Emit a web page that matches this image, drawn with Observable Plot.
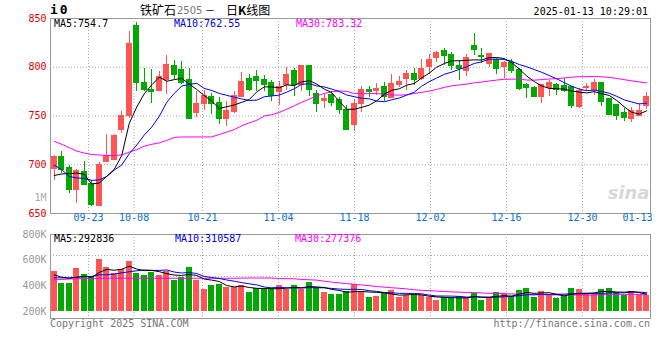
<!DOCTYPE html>
<html><head><meta charset="utf-8">
<script src="https://cdn.jsdelivr.net/npm/d3@7"></script>
<script src="https://cdn.jsdelivr.net/npm/@observablehq/plot@0.6"></script>
<style>
html,body{margin:0;padding:0;background:#fff;}
#wrap{position:relative;width:660px;height:360px;overflow:hidden;font-family:"DejaVu Sans Mono",monospace;font-size:10px;background:#fff;}
.t{position:absolute;white-space:nowrap;line-height:12px;}
#main,#vol{position:absolute;left:0;}
#main{top:0px;}
#vol{top:228px;}
</style></head><body>
<div id="wrap">
  <div id="main"></div>
  <div id="vol"></div>
  <div class="t" style="left:50px;top:4px;font-weight:bold;font-size:13px;letter-spacing:2px;">i0</div>
  <div class="t" style="left:140px;top:4px;font-family:'Noto Sans CJK SC';font-size:12px;">铁矿石</div>
  <div class="t" style="left:177px;top:5px;font-family:'DejaVu Sans';font-size:10px;color:#777;">2505</div>
  <div class="t" style="left:205px;top:4px;font-family:'Noto Sans CJK SC';font-size:10px;">－</div>
  <div class="t" style="left:226px;top:4px;font-family:'Noto Sans CJK SC';font-size:12px;">日<b>K</b>线图</div>
  <div class="t" style="right:12px;top:6px;">2025-01-13 10:29:01</div>
  <div class="t" style="left:54px;top:18px;color:#000;">MA5:754.7</div>
  <div class="t" style="left:174px;top:18px;color:#0000ee;">MA10:762.55</div>
  <div class="t" style="left:296px;top:18px;color:#ff00ff;">MA30:783.32</div>
  <div class="t" style="left:54px;top:233px;color:#000;">MA5:292836</div>
  <div class="t" style="left:175px;top:233px;color:#0000ee;">MA10:310587</div>
  <div class="t" style="left:295px;top:233px;color:#ff00ff;">MA30:277376</div>
  <div class="t" style="left:50px;top:318px;color:#777;">Copyright 2025 SINA.COM</div>
  <div class="t" style="right:10px;top:318px;color:#777;">http://finance.sina.com.cn</div>
</div>
<script>
// ---- data (daily K, i2505) ----
const open = [696,707.5,697,674.5,693,680,657.5,703,704.5,735.5,
  750.5,842,783.5,777,776,786.5,801,797.5,786.5,753,
  762,769,763,746.5,754.5,770,787.5,790.5,787,783.5,
  774.5,781.5,796.5,781.5,801,773,765.5,771.5,766,756.5,
  740.5,762,776.5,775.5,780,768,781.5,787.5,793.5,788,
  800,809,817,813,801,796,821.5,812,803,807.5,
  800,804,797.5,781.5,779,769.5,779,781.5,780.5,779.5,
  759.5,778.5,777,783.5,767.5,761,753.5,746.5,750.5,760];
const close = [708,694.5,674.5,694,679.5,658.5,700,709,729.5,750.5,
  823.5,783.5,777,775,790.5,802,792,783.5,746.5,762,
  771,762.5,746.5,755.5,771,784.5,777,785.5,781.5,771,
  779.5,792.5,781.5,801,776.5,762,767,763.5,756,736,
  762,777,775,778,769.5,782.5,784.5,793.5,786.5,798.5,
  807,815,812,801,798,809.5,817.5,811,814,798,
  804,796.5,778,778.5,769.5,781.5,784,777,775.5,760,
  776,780,783.5,764.5,751.5,750,747.5,755.5,755,769];
const high = [709.5,713.5,699,695,703,684,702,731.5,731,754.5,
  836.5,846,798.5,797.5,796,812.5,807,806,798.5,775.5,
  776,773,768.5,765,775.5,795,792.5,796.5,791.5,786.5,
  785,799.5,798.5,801,802,776.5,772.5,775,768.5,761,
  767,780.5,780.5,783,784.5,792.5,790.5,796.5,798.5,808,
  813,816.5,819,815.5,807,813,834.5,819,814,808.5,
  805.5,808,798.5,783.5,780.5,781.5,786,783,788,779.5,
  778.5,783.5,787.5,784,768,762,757.5,759,762.5,774.5];
const low = [684,691.5,670.5,660,679,657.5,657.5,702.5,704.5,732.5,
  747,775.5,775,763,775.5,772,787.5,782.5,746.5,748,
  756,751.5,741.5,739.5,752.5,769.5,775,775,775.5,765,
  761,776.5,770.5,775.5,770.5,754,758,760,751.5,735.5,
  734.5,754,768.5,771,765,767.5,779,776.5,781.5,786.5,
  792.5,805,802,797,786.5,791,812.5,804,800,792.5,
  788.5,793.5,776.5,768,769.5,763,770,771.5,774.5,757.5,
  757.5,776,771,759.5,751,745.5,744.5,743.5,750,756.5];
const volume = [512000,418000,418000,535000,488000,473000,605000,543000,496000,530000,
  590000,496000,481000,504000,481000,512000,442000,465000,543000,442000,
  371000,403000,410000,387000,387000,403000,348000,379000,379000,379000,
  403000,371000,403000,371000,426000,387000,348000,330000,330000,356000,
  408000,356000,309000,317000,338000,364000,309000,325000,325000,325000,
  309000,286000,309000,309000,317000,309000,338000,286000,309000,348000,
  338000,317000,364000,379000,309000,356000,325000,301000,317000,379000,
  371000,330000,330000,371000,379000,348000,325000,356000,325000,325000];
// moving-average values before the first full window
const ma5Head = [689,690.5,691,691.5];
const ma10Head = [699.5,695,688,686.5,686,684,684.5,688,694.5];
const ma30Head = [724,721,717.5,714,712,710.5,710,709.5,709.5,710,713,715.5,719,721,722.5,725,728,728.5,728.5,728.5,728.5,728.5,731,733.5,736,740,743,745.5,750];
const volMa5Head = [486000,467000,459000,467000];
const volMa10Head = [463000,462000,462000,467000,473000,473000,486000,486000,491000];
const volMa30Head = [447000,450000,453000,455000,457000,458000,459000,459000,459000,459000,459000,459000,459000,459000,459000,459000,459000,459000,459000,459000,459000,459000,459000,459000,459000,460000,461000,461000,461000];
const tickLabels = ["09-23","10-08","10-21","11-04","11-18","12-02","12-16","12-30","01-13"];
const tickIdx = [5,11,20,30,40,50,60,70,79];
const priceTicks = [650,700,750,800,850];
const priceGrid = [700,750,800];
const volTicks = [200000,400000,600000,800000];

// ---- styling ----
const RED = "#ff5555", GREEN = "#00a800", BLUE_TXT = "#0b6fd0";
const GRID = "#aaaaaa", FRAME = "#999999";
const N = close.length;
const gridStretch = 7.6 / 7.5; // sina grid spacing vs candle spacing

function movingAvg(vals, n, head) {
  return vals.map((v, i) => i < n - 1 ? head[i] : d3.mean(vals.slice(i - n + 1, i + 1)));
}
const ma5 = movingAvg(close, 5, ma5Head), ma10 = movingAvg(close, 10, ma10Head), ma30 = movingAvg(close, 30, ma30Head);
const vma5 = movingAvg(volume, 5, volMa5Head), vma10 = movingAvg(volume, 10, volMa10Head), vma30 = movingAvg(volume, 30, volMa30Head);

const rows = d3.range(N).map(i => ({
  i, o: open[i], h: high[i], l: low[i], c: close[i], v: volume[i],
  dir: close[i] >= open[i] ? "up" : "down",
  ma5: ma5[i], ma10: ma10[i], ma30: ma30[i], vma5: vma5[i], vma10: vma10[i], vma30: vma30[i]
}));
const gridIdx = tickIdx.slice(0, -1);
const xc = d => d.i + 0.5;

const mainPlot = Plot.plot({
  width: 660, height: 228,
  marginLeft: 50, marginRight: 10, marginTop: 18, marginBottom: 15,
  style: {fontFamily: "DejaVu Sans Mono", fontSize: "10px", color: "#e00000", background: "transparent"},
  x: {domain: [0, N], axis: null},
  y: {domain: [650, 850], ticks: priceTicks, tickSize: 0, tickPadding: 4, label: null},
  color: {domain: ["up", "down"], range: [RED, GREEN]},
  marks: [
    Plot.ruleY(priceGrid, {stroke: GRID, strokeDasharray: "1,2"}),
    Plot.ruleX(gridIdx, {x: d => d * gridStretch, stroke: GRID, strokeDasharray: "1,2"}),
    Plot.ruleX(rows, {x: xc, y1: "l", y2: "h", stroke: "dir", shapeRendering: "crispEdges"}),
    Plot.rectY(rows, {x1: d => d.i + 0.1, x2: d => d.i + 0.9, y1: d => Math.min(d.o, d.c), y2: d => Math.max(d.o, d.c),
      fill: "dir", insetTop: -0.5, insetBottom: -0.5, shapeRendering: "crispEdges"}),
    Plot.line(rows, {x: xc, y: "ma30", stroke: "#ff00ff", strokeWidth: 1}),
    Plot.line(rows, {x: xc, y: "ma10", stroke: "#0000ff", strokeWidth: 1}),
    Plot.line(rows, {x: xc, y: "ma5", stroke: "#000000", strokeWidth: 1}),
    Plot.frame({stroke: FRAME}),
    Plot.text(tickLabels.slice(0, -1), {x: (d, k) => gridIdx[k] * gridStretch, text: d => d, frameAnchor: "bottom", dy: 7, fill: BLUE_TXT}),
    Plot.text(tickLabels.slice(-1), {text: d => d, frameAnchor: "bottom-right", textAnchor: "end", dy: 7, dx: 2, fill: BLUE_TXT}),
    Plot.text(["1M"], {text: d => d, frameAnchor: "bottom-left", textAnchor: "end", dx: -4, dy: -13, fill: "#aaaaaa"}),
    Plot.text(["sina"], {text: d => d, frameAnchor: "bottom-right", textAnchor: "end", dx: -1, dy: -15,
      fontSize: 18, fontStyle: "italic", fontWeight: "bold", fontFamily: "DejaVu Sans", fill: "#d8d8d8"})
  ]
});
document.getElementById("main").appendChild(mainPlot);

const volRange = [83, 6];
const volDomain = [200000, 800000];
const frameTop = 6, frameBottom = 90;
const pxToVol = d3.scaleLinear().domain(volRange).range(volDomain);
const volGrid = [1, 2, 3].map(k => pxToVol(frameTop + k * (frameBottom - frameTop) / 4));

const volPlot = Plot.plot({
  width: 660, height: 100,
  marginLeft: 50, marginRight: 10, marginTop: frameTop, marginBottom: 100 - frameBottom,
  style: {fontFamily: "DejaVu Sans Mono", fontSize: "10px", color: "#999999", background: "transparent"},
  x: {domain: [0, N], axis: null},
  y: {domain: volDomain, range: volRange, ticks: volTicks, tickFormat: d => d / 1000 + "K", tickSize: 0, tickPadding: 4, label: null},
  color: {domain: ["up", "down"], range: [RED, GREEN]},
  marks: [
    Plot.ruleY(volGrid, {stroke: GRID, strokeDasharray: "1,2"}),
    Plot.ruleX(gridIdx, {x: d => d * gridStretch, stroke: GRID, strokeDasharray: "1,2"}),
    Plot.rectY(rows, {x1: d => d.i + 0.1, x2: d => d.i + 0.9, y1: () => volDomain[0], y2: "v", fill: "dir", shapeRendering: "crispEdges"}),
    Plot.line(rows, {x: xc, y: "vma30", stroke: "#ff00ff", strokeWidth: 1}),
    Plot.line(rows, {x: xc, y: "vma10", stroke: "#0000ff", strokeWidth: 1}),
    Plot.line(rows, {x: xc, y: "vma5", stroke: "#000000", strokeWidth: 1}),
    Plot.frame({stroke: FRAME})
  ]
});
document.getElementById("vol").appendChild(volPlot);
</script>
</body></html>
